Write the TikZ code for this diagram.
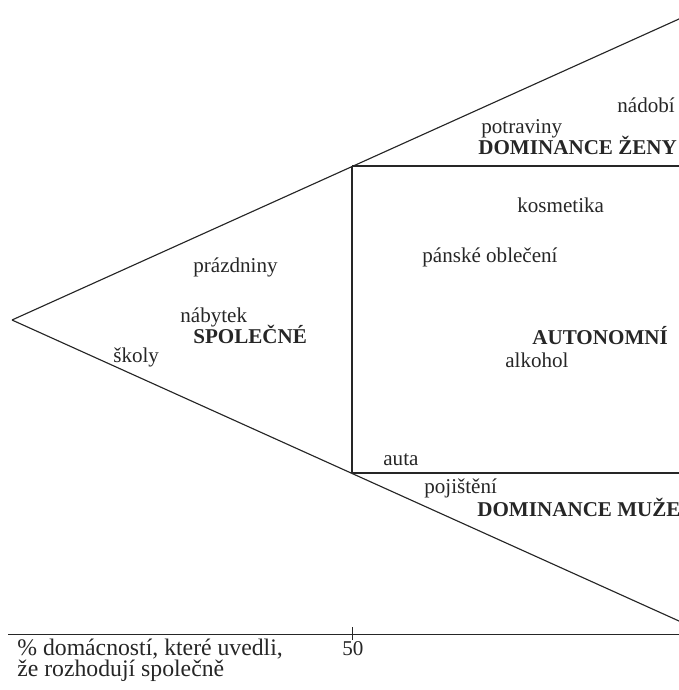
\documentclass[tikz,border=0pt]{standalone}
\usepackage{fontspec}
\setmainfont{Liberation Serif}
\usepackage{xcolor}
\usepackage{tikz}
\usetikzlibrary{positioning,calc}
\tikzset{
  item/.style={anchor=base west,inner sep=0pt,font=\fontsize{12}{14}\selectfont,text=black!85},
  zone/.style={item,font=\fontsize{12}{14}\selectfont\bfseries},
  axlbl/.style={item,font=\fontsize{13.5}{15}\selectfont},
  edge/.style={line width=0.65pt,draw=black!85},
  tick/.style={line width=0.55pt,draw=black!85}
}

\begin{document}
\begin{tikzpicture}[x=0.02cm,y=-0.02cm]
  \useasboundingbox (0,0) rectangle (679,690);

  % rozvětvení
  \coordinate (apex) at (12,320);
  \coordinate (topR) at (679,19);
  \coordinate (botR) at (679,621);
  \coordinate (jt) at (352,166);
  \coordinate (jb) at (352,473);
  \coordinate (jtR) at (679,166);
  \coordinate (jbR) at (679,473);
  \draw[edge] (apex) -- (topR);
  \draw[edge] (apex) -- (botR);
  \draw[edge] (jt) -- (jtR);
  \draw[edge] (jb) -- (jbR);
  \draw[edge] (jt) -- (jb);

  % osa
  \coordinate (axL) at (8,634);
  \coordinate (axR) at (679,634);
  \coordinate (t50) at (352,634);
  \draw[tick] (axL) -- (axR);
  \draw[tick] ($(t50)+(0,-7)$) -- ($(t50)+(0,6)$);

  % dominance ženy
  \node[item] (nadobi) at (617,112) {nádobí};
  \node[item] (potraviny) at (481,133) {potraviny};
  \node[zone] (zeny) at (478,154) {DOMINANCE ŽENY};

  % autonomní
  \node[item] (kosmetika) at (517,212) {kosmetika};
  \node[item] (obleceni) at (422,262) {pánské oblečení};
  \node[zone] (autonomni) at (532,344) {AUTONOMNÍ};
  \node[item] (alkohol) at (505,367) {alkohol};

  % společné
  \node[item] (prazdniny) at (193,272) {prázdniny};
  \node[item] (nabytek) at (180,322) {nábytek};
  \node[zone] (spolecne) at (193,343) {SPOLEČNÉ};
  \node[item] (skoly) at (113,362) {školy};

  % dominance muže
  \node[item] (auta) at (383,465) {auta};
  \node[item] (pojisteni) at (424,493) {pojištění};
  \node[zone] (muze) at (477,516) {DOMINANCE MUŽE};

  % popisky osy
  \node[item] (padesat) at (342,655) {50};
  \node[axlbl] (osa1) at (17,655) {\% domácností, které uvedli,};
  \node[axlbl] (osa2) at (17,676) {že rozhodují společně};
\end{tikzpicture}
\end{document}
